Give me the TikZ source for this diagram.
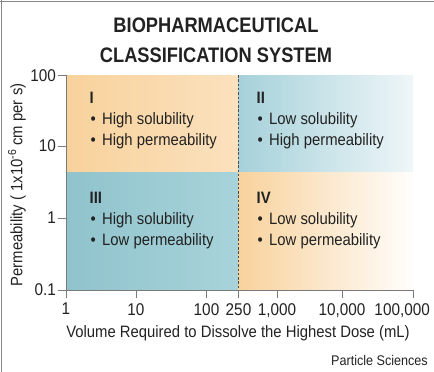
\documentclass[tikz,border=0pt]{standalone}
\usepackage{fontspec}
\setmainfont{Liberation Sans}[FakeStretch=0.9]
\newfontfamily\titlefont{Liberation Sans}[FakeStretch=0.87]
\usetikzlibrary{positioning}
\definecolor{bcsorange}{HTML}{F8D29C}
\definecolor{bcsorangelight}{HTML}{FBE1BE}
\definecolor{bcsblue}{HTML}{A6D1DA}
\definecolor{bcsbluelight}{HTML}{EEF6F8}
\definecolor{bcsteal}{HTML}{90C3CC}
\definecolor{bcstealright}{HTML}{A8D3DA}
\definecolor{bcstext}{HTML}{222222}
\definecolor{bcsaxis}{HTML}{7A7A7A}
\tikzset{quad text/.style={align=left,anchor=north west,inner sep=0pt,text=bcstext,font=\fontsize{16.5}{21}\selectfont}}
\tikzset{tick label/.style={inner sep=0pt,text=bcstext,font=\fontsize{17}{20}\selectfont}}
\tikzset{axis line/.style={draw=bcsaxis,line width=0.9pt}}
\newcommand{\bul}{\makebox[12.5pt][l]{\hspace*{1pt}\textbullet}}

\begin{document}
\begin{tikzpicture}[x=1pt,y=-1pt]
    \useasboundingbox (0,0) rectangle (434,372);
    % frame
    \draw[bcsaxis!90,line width=1.5pt] (0,1.5) -- (434,1.5);
    \draw[bcsaxis!90,line width=1.5pt] (1.5,0) -- (1.5,372);

    % title
    \node[font=\titlefont\bfseries\fontsize{21}{29.5}\selectfont,align=center,text=bcstext] (title) at (216,40.5) {BIOPHARMACEUTICAL\\CLASSIFICATION SYSTEM};

    % quadrants
    \shade[left color=bcsorange,right color=bcsorangelight] (66,75) rectangle (238,172);
    \shade[left color=bcsblue,right color=bcsbluelight] (238,75) rectangle (413,172);
    \shade[left color=bcsteal,right color=bcstealright] (66,172) rectangle (238,290);
    \shade[left color=bcsorange,right color=white!97!bcsorange] (238,172) rectangle (413,290);
    \draw[bcstext!80,line width=0.7pt,dash pattern=on 2.5pt off 1.8pt] (238,75) -- (238,290);

    \node[quad text] (q1) at (89.5,92) {\textbf{I}\\\bul High solubility\\\bul High permeability};
    \node[quad text] (q2) at (256.5,92) {\textbf{II}\\\bul Low solubility\\\bul High permeability};
    \node[quad text] (q3) at (89.5,192) {\textbf{III}\\\bul High solubility\\\bul Low permeability};
    \node[quad text] (q4) at (256.5,192) {\textbf{IV}\\\bul Low solubility\\\bul Low permeability};

    % axes
    \draw[axis line] (66,75) -- (66,290) -- (413,290);
    \foreach \yv/\yl [count=\i] in {75.5/100,146/10,218/1,290/0.1} {
        \draw[axis line] (58,\yv) -- (66,\yv);
        \node[tick label,anchor=east] (ylab\i) at (56,\yv) {\yl};
    }
    \foreach \xv/\xl [count=\i] in {66/1,136/10,206.5/100,238.5/250,277/{1,000},342/{10,000}} {
        \draw[axis line] (\xv,290) -- (\xv,298);
        \node[tick label,anchor=north] (xlab\i) at (\xv,303) {\xl};
    }
    \draw[axis line] (413,290) -- (413,298);
    \node[tick label,anchor=north east] (xlab7) at (430,303) {100,000};

    \node[anchor=base,inner sep=0pt,text=bcstext,font=\fontsize{16.5}{20}\selectfont] (xtitle) at (238,337.5) {Volume Required to Dissolve the Highest Dose (mL)};
    \node[anchor=base,rotate=90,inner sep=0pt,text=bcstext,font=\fontsize{16.5}{20}\selectfont] (ytitle) at (22.5,185) {Permeability ( 1x10\textsuperscript{-6} cm per s)};
    \node[anchor=base east,inner sep=0pt,text=bcstext,font=\fontsize{14}{16}\selectfont] (credit) at (428,365) {Particle Sciences};
\end{tikzpicture}
\end{document}
